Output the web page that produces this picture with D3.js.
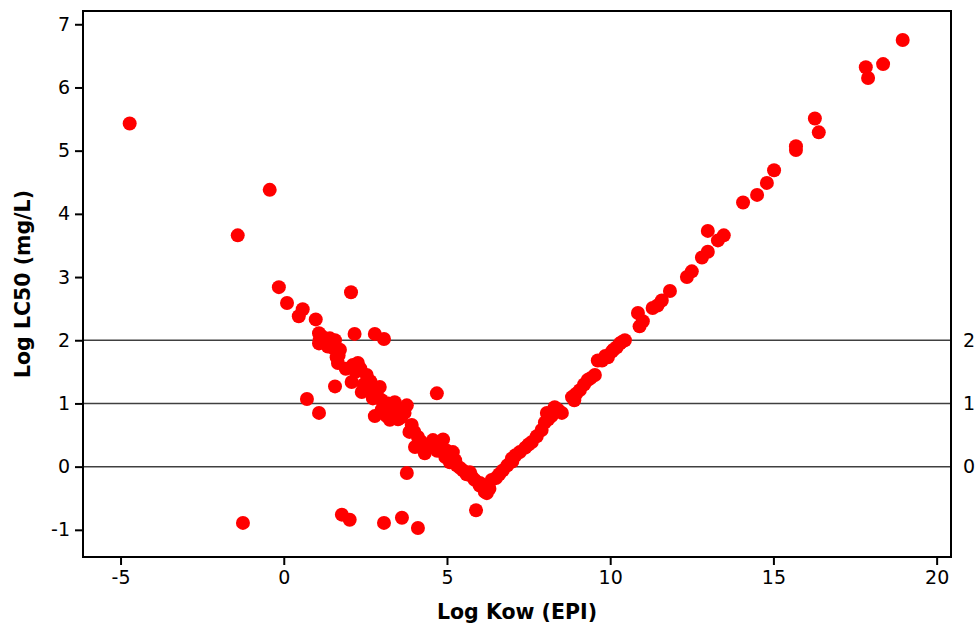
<!DOCTYPE html>
<html>
<head>
<meta charset="utf-8">
<script src="https://cdn.jsdelivr.net/npm/d3@7"></script>
<style>
  body { margin: 0; background: #fff; }
  text { font-family: "DejaVu Sans", sans-serif; }
</style>
</head>
<body>
<div class="chart"></div>
<script>
// values
const logKow = [
  -4.72, -1.41, -0.43, -1.25, -0.15, 0.10, 0.46, 0.58, 0.98, 0.71, 1.08, 2.06,
  2.17, 2.79, 3.07, 1.78, 2.02, 3.07, 3.62, 4.11, 3.77, 4.69, 1.57, 5.89,
  1.08, 1.08, 1.10, 1.30, 1.41, 1.57, 1.50, 1.62, 1.66, 1.68, 1.72, 2.12,
  2.27, 2.08, 2.20, 2.54, 2.39, 2.45, 2.65, 2.94, 2.73, 2.85, 2.79, 3.00,
  3.10, 3.20, 3.40, 3.30, 3.77, 3.25, 3.55, 3.34, 3.60, 3.92, 3.85, 4.11,
  4.02, 4.20, 4.32, 4.45, 4.57, 4.88, 4.70, 4.95, 5.18, 5.09, 5.30, 5.49,
  5.60, 5.70, 5.85, 6.00, 6.16,
  1.20, 1.35, 1.90, 2.35, 2.60, 3.00, 3.15, 3.45, 3.50, 3.70, 4.00, 4.25,
  4.60, 5.00, 5.25, 5.40, 5.75,
  6.22, 6.37, 6.01, 6.50, 6.71, 6.85, 6.99, 7.10, 7.23, 7.40, 7.60, 7.75,
  7.90, 8.06, 8.00, 8.20, 8.30, 8.52, 8.83, 8.95, 9.07, 9.20, 9.31, 9.53,
  9.62, 9.75, 9.93, 10.05, 10.20, 10.30, 10.45, 10.85, 10.90, 11.00, 11.30, 11.45,
  11.58, 11.83, 12.35, 12.50, 12.81, 12.99, 12.99, 13.30, 13.48, 14.07, 14.50, 14.80,
  15.02, 15.69, 15.69, 16.27, 16.39, 17.83, 17.90, 18.36, 18.96,
  6.30, 6.60, 7.00, 7.50, 8.10, 8.40, 8.90, 9.40, 9.85, 10.10, 10.35
];
const logLC50 = [
  5.43, 3.66, 4.38, -0.89, 2.84, 2.59, 2.38, 2.49, 2.33, 1.07, 0.85, 2.76,
  2.10, 2.10, 2.02, -0.76, -0.84, -0.89, -0.81, -0.97, -0.10, 1.16, 1.27, -0.69,
  2.11, 1.95, 2.00, 1.98, 2.03, 2.00, 1.88, 1.73, 1.64, 1.76, 1.85, 1.61,
  1.64, 1.34, 1.50, 1.45, 1.18, 1.30, 1.35, 1.26, 1.08, 1.15, 0.80, 1.05,
  0.95, 1.00, 1.02, 0.90, 0.97, 0.74, 0.86, 0.85, 0.78, 0.66, 0.55, 0.47,
  0.31, 0.40, 0.21, 0.30, 0.42, 0.43, 0.25, 0.15, 0.23, 0.07, 0.02, -0.06,
  -0.12, -0.09, -0.21, -0.30, -0.40,
  2.05, 1.90, 1.55, 1.55, 1.25, 0.90, 0.80, 0.95, 0.75, 0.85, 0.55, 0.35,
  0.30, 0.25, 0.10, -0.02, -0.15,
  -0.42, -0.21, -0.26, -0.18, -0.06, 0.02, 0.13, 0.18, 0.23, 0.30, 0.39, 0.48,
  0.58, 0.85, 0.70, 0.80, 0.94, 0.85, 1.10, 1.15, 1.21, 1.30, 1.37, 1.45,
  1.68, 1.68, 1.73, 1.82, 1.89, 1.95, 2.00, 2.43, 2.22, 2.30, 2.51, 2.55,
  2.63, 2.78, 3.00, 3.09, 3.31, 3.40, 3.73, 3.58, 3.66, 4.18, 4.30, 4.49,
  4.69, 5.07, 5.01, 5.51, 5.29, 6.32, 6.15, 6.37, 6.75,
  -0.35, -0.12, 0.08, 0.35, 0.75, 0.90, 1.05, 1.40, 1.75, 1.85, 1.97
];
const xTicks = [-5, 0, 5, 10, 15, 20];
const yTicks = [-1, 0, 1, 2, 3, 4, 5, 6, 7];
const refLines = [0, 1, 2];

const width = 978;
const height = 625;
const margin = { top: 11, right: 27, bottom: 68, left: 83 };

const svg = d3.select('.chart')
  .append('svg')
  .attr('width', width)
  .attr('height', height);

const x = d3.scaleLinear()
  .domain([-6.15, 20.44])
  .range([margin.left, width - margin.right]);

const y = d3.scaleLinear()
  .domain([-1.43, 7.21])
  .range([height - margin.bottom, margin.top]);

// reference lines at 0, 1, 2
svg.append('g')
  .selectAll('line')
  .data(refLines)
  .join('line')
  .attr('x1', x.range()[0])
  .attr('x2', x.range()[1])
  .attr('y1', d => y(d))
  .attr('y2', d => y(d))
  .attr('stroke', '#404040')
  .attr('stroke-width', 1.5);

svg.append('g')
  .selectAll('text')
  .data(refLines)
  .join('text')
  .attr('x', x.range()[1] + 12)
  .attr('y', d => y(d))
  .attr('dy', '0.36em')
  .attr('font-size', 19)
  .attr('fill', '#000')
  .text(d => d);

// points
svg.append('g')
  .selectAll('circle')
  .data(d3.zip(logKow, logLC50))
  .join('circle')
  .attr('cx', d => x(d[0]))
  .attr('cy', d => y(d[1]))
  .attr('r', 7)
  .attr('fill', '#ff0000');

// axes (plain hyphen for negatives, like the original)
const xAxis = svg.append('g')
  .attr('transform', `translate(0,${height - margin.bottom})`)
  .call(d3.axisBottom(x).tickValues(xTicks).tickFormat(d => String(d))
    .tickSize(8).tickSizeOuter(0).tickPadding(6));

const yAxis = svg.append('g')
  .attr('transform', `translate(${margin.left},0)`)
  .call(d3.axisLeft(y).tickValues(yTicks).tickFormat(d => String(d))
    .tickSize(8).tickSizeOuter(0).tickPadding(5));

[xAxis, yAxis].forEach(g => {
  g.select('.domain').remove();
  g.selectAll('line').attr('stroke', '#000').attr('stroke-width', 2);
  g.selectAll('text')
    .attr('font-size', 19)
    .attr('fill', '#000')
    .style('font-family', '"DejaVu Sans", sans-serif');
});

// frame
svg.append('rect')
  .attr('x', margin.left)
  .attr('y', margin.top)
  .attr('width', width - margin.left - margin.right)
  .attr('height', height - margin.top - margin.bottom)
  .attr('fill', 'none')
  .attr('stroke', '#000')
  .attr('stroke-width', 2);

// titles
svg.append('text')
  .attr('x', (margin.left + width - margin.right) / 2)
  .attr('y', 619)
  .attr('text-anchor', 'middle')
  .attr('font-size', 20.5)
  .attr('font-weight', 'bold')
  .text('Log Kow (EPI)');

svg.append('text')
  .attr('transform', `translate(30,${(margin.top + height - margin.bottom) / 2}) rotate(-90)`)
  .attr('text-anchor', 'middle')
  .attr('font-size', 20.5)
  .attr('font-weight', 'bold')
  .text('Log LC50 (mg/L)');
</script>
</body>
</html>
